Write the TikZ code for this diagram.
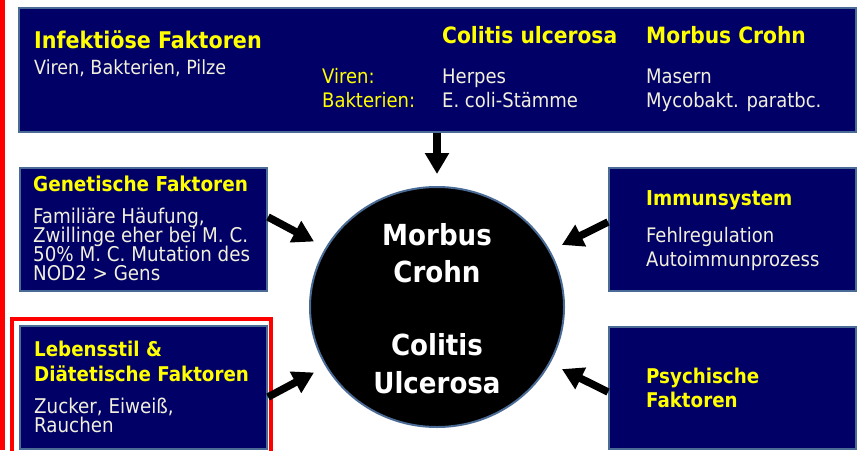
\documentclass[tikz,border=0pt]{standalone}
\usepackage{fontspec}
\setmainfont{DejaVu Sans Condensed}
\usetikzlibrary{arrows.meta,shapes.geometric,calc}
\definecolor{navy}{HTML}{000066}
\definecolor{edgeblue}{HTML}{4A6B95}
\definecolor{ylw}{HTML}{FFFF00}
\definecolor{cream}{HTML}{F2F0DC}
\definecolor{redl}{HTML}{FF0000}
\newcommand\mytightlines{\lineskiplimit=-30pt\relax}
\begin{document}
\begin{tikzpicture}[x=1pt,y=-1pt,
  box/.style={draw=edgeblue,line width=2pt,fill=navy,anchor=north west,inner sep=0pt},
  head/.style={anchor=base west,inner sep=0pt,text=ylw,font=\bfseries\fontsize{#1}{#1}\selectfont},
  body/.style={anchor=base west,inner sep=0pt,text=cream,font=\fontsize{#1}{#1}\selectfont},
  para/.style={anchor=base west,inner sep=0pt,text=cream,align=left,
    font=\fontsize{20.3}{#1}\selectfont\mytightlines},
  lbl/.style={anchor=base west,inner sep=0pt,text=ylw,font=\fontsize{#1}{#1}\selectfont},
  ctr/.style={anchor=base,inner sep=0pt,text=white,font=\bfseries\fontsize{29}{29}\selectfont},
  arr/.style={line width=7.5pt,-{Triangle[length=21pt,width=23pt]},shorten >=12pt}]
\useasboundingbox (0,0) rectangle (859,450);
\fill[white] (0,0) rectangle (859,450);
\fill[redl] (0,0) rectangle (5,450);
\draw[redl,line width=4pt] (12,455) -- (12,319) -- (271,319) -- (271,455);
% boxes
\node[box,minimum width=837pt,minimum height=124pt] (inf) at (18,7) {};
\node[box,minimum width=247pt,minimum height=123pt] (gen) at (19,167) {};
\node[box,minimum width=247pt,minimum height=123pt] (leb) at (19,325) {};
\node[box,minimum width=247pt,minimum height=123pt] (imm) at (608,167) {};
\node[box,minimum width=247pt,minimum height=122pt] (psy) at (608,326) {};
\node[ellipse,draw=edgeblue,line width=2pt,fill=black,minimum width=254pt,minimum height=240pt,inner sep=0pt] (mc) at (437,307) {};
% top box texts
\node[head=23] (t1) at (34,48) {Infektiöse Faktoren};
\node[body=19.5] (t2) at (34,74) {Viren, Bakterien, Pilze};
\node[lbl=20] (t3) at (322,83) {Viren:};
\node[lbl=20] (t4) at (322,107) {Bakterien:};
\node[head=22.5] (t5) at (442,43) {Colitis ulcerosa};
\node[body=20] (t6) at (442,83) {Herpes};
\node[body=20] (t7) at (442,107) {E. coli-Stämme};
\node[head=22.5] (t8) at (646,43) {Morbus Crohn};
\node[body=20] (t9) at (646,83) {Masern};
\node[body=20] (t10) at (646,107) {Mycobakt. paratbc.};
% genetic
\node[head=20.5] (g1) at (33,191) {Genetische Faktoren};
\node[para=18.7] (g2) at (33,280) {Familiäre Häufung,\\Zwillinge eher bei M. C.\\50\% M. C. Mutation des\\NOD2 > Gens};
% lifestyle
\node[head=20.3] (l1) at (34,356) {Lebensstil \&};
\node[head=20.3] (l2) at (34,381) {Diätetische Faktoren};
\node[para=18.7] (l3) at (34,432.5) {Zucker, Eiweiß,\\Rauchen};
% immune
\node[head=20.5] (i1) at (646,205) {Immunsystem};
\node[body=20] (i2) at (646,242) {Fehlregulation};
\node[body=20] (i3) at (646,266) {Autoimmunprozess};
% psychic
\node[head=20.3] (p1) at (646,383) {Psychische};
\node[head=20.3] (p2) at (646,407) {Faktoren};
% centre
\node[ctr] (c1) at (437,245) {Morbus};
\node[ctr] (c2) at (437,282) {Crohn};
\node[ctr] (c3) at (437,355) {Colitis};
\node[ctr] (c4) at (437,393) {Ulcerosa};
% arrows
\draw[arr] (inf.south -| mc.center) -- (mc.north);
\draw[arr,shorten >=13pt] ($(gen.north east)+(0,50)$) -- (mc);
\draw[arr,shorten >=13pt] ($(leb.north east)+(0,72)$) -- (mc);
\draw[arr,shorten >=13pt] ($(imm.north west)+(0,55)$) -- (mc);
\draw[arr,shorten >=13pt] ($(psy.north west)+(0,66)$) -- (mc);
\end{tikzpicture}
\end{document}
